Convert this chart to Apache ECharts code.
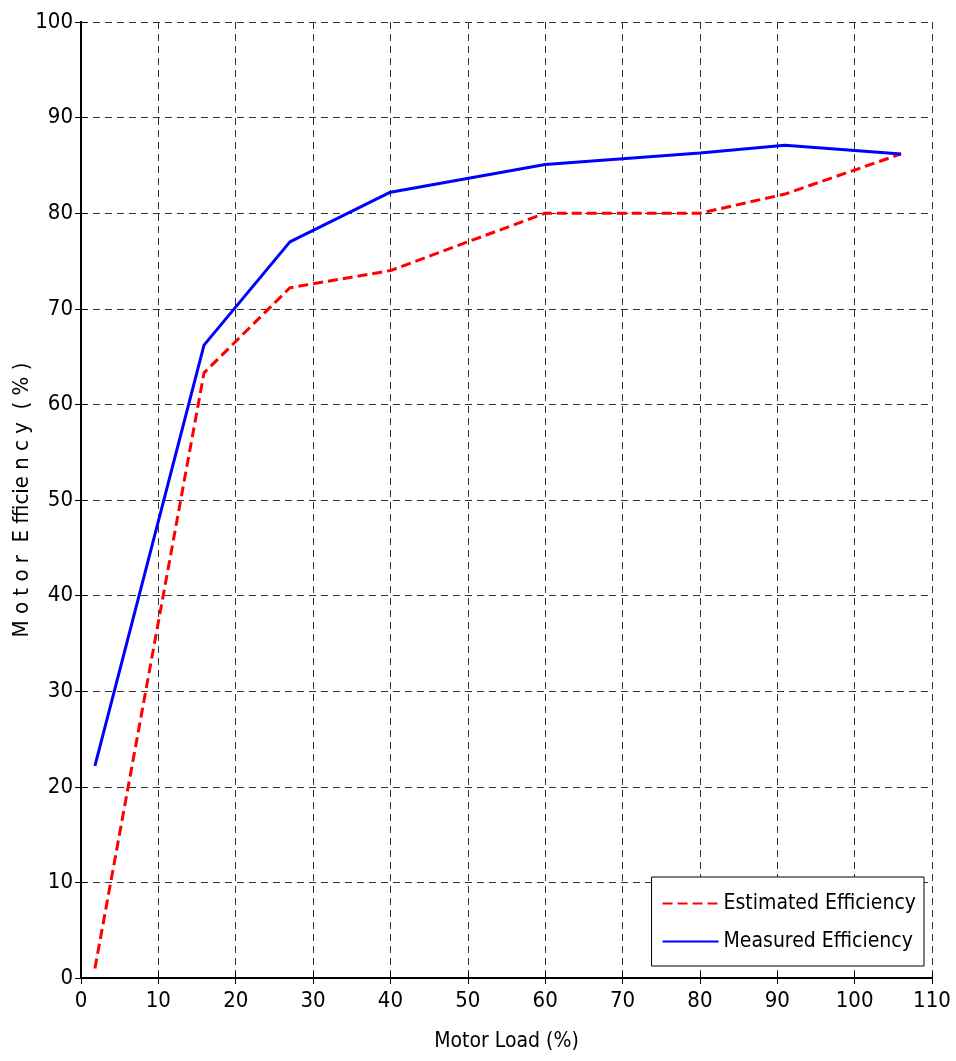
<!DOCTYPE html>
<html>
<head>
<meta charset="utf-8">
<script src="https://cdn.jsdelivr.net/npm/echarts@6/dist/echarts.min.js"></script>
<style>
  html, body { margin: 0; padding: 0; background: #fff; }
  #chart { width: 956px; height: 1061px; }
</style>
</head>
<body>
<div id="chart"></div>
<script>
// Motor load (%) at each test point
const motorLoad = [1.8, 15.9, 27, 40, 60, 80, 91, 106];
// Efficiency estimates and bench measurements (%)
const estimatedEfficiency = [1, 63.3, 72.2, 74, 80, 80, 82, 86.2];
const measuredEfficiency = [22.2, 66.2, 77, 82.2, 85.1, 86.3, 87.1, 86.2];

const seriesNames = ['Estimated Efficiency', 'Measured Efficiency'];

const FONT = '"DejaVu Sans Condensed", "Liberation Sans Narrow", "Liberation Sans", sans-serif';

const pairs = (xs, ys) => xs.map((x, i) => [x, ys[i]]);

const gridLine = { show: true, lineStyle: { color: '#333', width: 1, type: [7, 5] } };
const tickLabel = { color: '#000', fontFamily: FONT, fontSize: 22 };

const chart = echarts.init(document.getElementById('chart'), null, { renderer: 'canvas' });
chart.setOption({
  backgroundColor: '#fff',
  animation: false,
  grid: { left: 81, top: 22, right: 24, bottom: 83, containLabel: false, outerBoundsMode: 'none' },
  xAxis: [{
    type: 'value', min: 0, max: 110, interval: 10,
    name: 'Motor Load (%)', nameLocation: 'middle', nameGap: 53,
    nameTextStyle: { color: '#000', fontFamily: FONT, fontSize: 21 },
    axisLine: { show: true, onZero: false, lineStyle: { color: '#000', width: 2 } },
    axisTick: { show: true, inside: true, length: 6, lineStyle: { color: '#000' } },
    axisLabel: Object.assign({ margin: 12 }, tickLabel),
    splitLine: gridLine
  }, {
    type: 'value', min: 0, max: 110, interval: 10, position: 'top',
    axisLine: { show: true, lineStyle: { color: '#000', width: 2 } },
    axisTick: { show: true, inside: true, length: 6, lineStyle: { color: '#000' } },
    axisLabel: { show: false }, splitLine: { show: false }
  }],
  yAxis: [{
    type: 'value', min: 0, max: 100, interval: 10,
    name: 'M o t o r  E fficie n c y  ( % )', nameLocation: 'middle', nameGap: 48,
    nameMoveOverlap: false,
    nameTextStyle: { color: '#000', fontFamily: FONT, fontSize: 22 },
    axisLine: { show: true, onZero: false, lineStyle: { color: '#000', width: 2 } },
    axisTick: { show: true, inside: true, length: 6, lineStyle: { color: '#000' } },
    axisLabel: Object.assign({ margin: 8 }, tickLabel),
    splitLine: gridLine
  }, {
    type: 'value', min: 0, max: 100, interval: 10, position: 'right',
    axisLine: { show: true, lineStyle: { color: '#000', width: 2 } },
    axisTick: { show: true, inside: true, length: 6, lineStyle: { color: '#000' } },
    axisLabel: { show: false }, splitLine: { show: false }
  }],
  legend: {
    data: seriesNames,
    orient: 'vertical',
    right: 32, bottom: 95,
    padding: [16, 8, 14, 10],
    itemGap: 17,
    itemWidth: 56, itemHeight: 14,
    itemStyle: { opacity: 0 },
    backgroundColor: '#fff',
    borderColor: '#000', borderWidth: 1, borderRadius: 0,
    textStyle: { color: '#000', fontFamily: FONT, fontSize: 21 }
  },
  series: [{
    name: seriesNames[0], type: 'line',
    data: pairs(motorLoad, estimatedEfficiency),
    symbol: 'none', color: '#ff0000',
    lineStyle: { color: '#ff0000', width: 3, type: [10, 5] }
  }, {
    name: seriesNames[1], type: 'line',
    data: pairs(motorLoad, measuredEfficiency),
    symbol: 'none', color: '#0000ff',
    lineStyle: { color: '#0000ff', width: 3 }
  }]
});
</script>
</body>
</html>
